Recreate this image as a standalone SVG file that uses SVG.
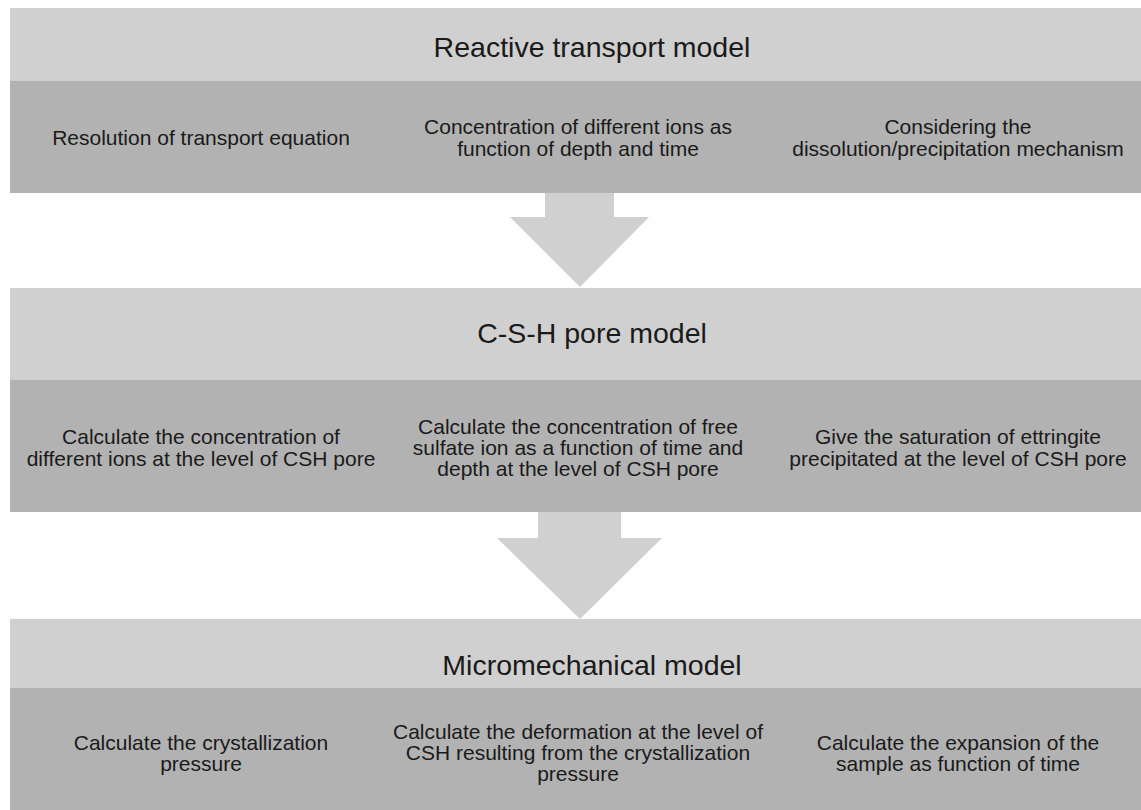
<svg xmlns="http://www.w3.org/2000/svg" width="1141" height="810" viewBox="0 0 1141 810">
<style>
.hd{fill:#d0d0d0}
.bd{fill:#b2b2b2}
.ar{fill:#d0d0d0}
text{font-family:"Liberation Sans",Arial,sans-serif;fill:#1a1a1a;text-anchor:middle}
.t{font-size:28.5px}
.b{font-size:21px}
</style>
<rect width="1141" height="810" fill="#ffffff"/>
<g id="connectors">
<polygon class="ar" points="545,193 614,193 614,217 649,217 580,287 510,217 545,217"/>
<polygon class="ar" points="538,512 621,512 621,538 662,538 580,619 497,538 538,538"/>
</g>
<g id="reactive">
<rect class="hd" x="10" y="8" width="1131" height="73"/>
<rect class="bd" x="10" y="81" width="1131" height="112"/>
<text class="t" x="592" y="57">Reactive transport model</text>
<text class="b" x="201" y="145">Resolution of transport equation</text>
<text class="b" x="578" y="134">Concentration of different ions as</text>
<text class="b" x="578" y="156">function of depth and time</text>
<text class="b" x="958" y="134">Considering the</text>
<text class="b" x="958" y="156">dissolution/precipitation mechanism</text>
</g>
<g id="csh">
<rect class="hd" x="10" y="288" width="1131" height="92"/>
<rect class="bd" x="10" y="380" width="1131" height="132"/>
<text class="t" x="592" y="343">C-S-H pore model</text>
<text class="b" x="201" y="444">Calculate the concentration of</text>
<text class="b" x="201" y="466">different ions at the level of CSH pore</text>
<text class="b" x="578" y="434">Calculate the concentration of free</text>
<text class="b" x="578" y="455">sulfate ion as a function of time and</text>
<text class="b" x="578" y="476">depth at the level of CSH pore</text>
<text class="b" x="958" y="444">Give the saturation of ettringite</text>
<text class="b" x="958" y="466">precipitated at the level of CSH pore</text>
</g>
<g id="micro">
<rect class="hd" x="10" y="619" width="1131" height="69"/>
<rect class="bd" x="10" y="688" width="1131" height="122"/>
<text class="t" x="592" y="675">Micromechanical model</text>
<text class="b" x="201" y="750">Calculate the crystallization</text>
<text class="b" x="201" y="771">pressure</text>
<text class="b" x="578" y="739">Calculate the deformation at the level of</text>
<text class="b" x="578" y="760">CSH resulting from the crystallization</text>
<text class="b" x="578" y="781">pressure</text>
<text class="b" x="958" y="750">Calculate the expansion of the</text>
<text class="b" x="958" y="771">sample as function of time</text>
</g>
</svg>
